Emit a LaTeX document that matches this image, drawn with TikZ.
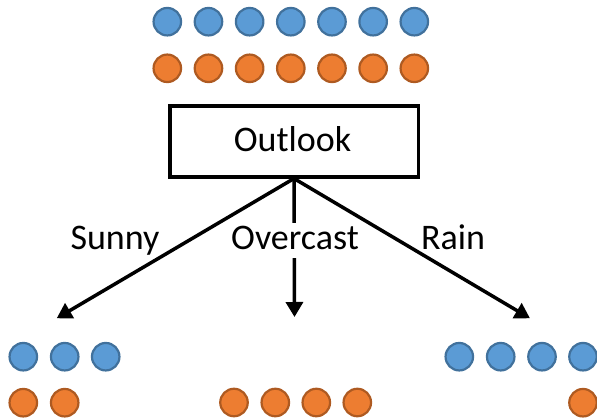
\documentclass[tikz,border=0pt]{standalone}
\usepackage{fontspec}
\setmainfont{Carlito}
\usetikzlibrary{arrows.meta}
\definecolor{bfill}{HTML}{5B9BD5}
\definecolor{bdraw}{HTML}{41719C}
\definecolor{ofill}{HTML}{ED7D31}
\definecolor{odraw}{HTML}{AE5A21}
\tikzset{
  bdot/.style={circle, fill=bfill, draw=bdraw, line width=2.2pt, minimum size=27.5pt, inner sep=0pt},
  odot/.style={circle, fill=ofill, draw=odraw, line width=2.2pt, minimum size=27.5pt, inner sep=0pt},
  lbl/.style={font=\fontsize{36}{43}\selectfont, anchor=base, inner sep=0pt},
  conn/.style={line width=3.5pt, -{Triangle[width=17pt,length=15pt]}},
}
\begin{document}
\begin{tikzpicture}[x=1pt,y=-1pt]
\useasboundingbox (0,0) rectangle (597,420);
% top row
\foreach \i in {0,...,6} {
  \node[bdot] (tb\i) at (167.3+41.17*\i,21.7) {};
  \node[odot] (to\i) at (167.3+41.17*\i,68.3) {};
}
% box
\node[draw, line width=3.5pt, minimum width=248.5pt, minimum height=71pt, inner sep=0pt] (box) at (294,141.25) {};
\node[lbl] (outlook) at (292.5,151.7) {Outlook};
% arrow ends
\coordinate (eL) at (56.7,318.3);
\coordinate (eM) at (294.5,317);
\coordinate (eR) at (530,318.3);
\draw[conn] (box.south) -- (eL);
\draw[conn] (box.south) -- (eR);
\draw[conn] (box.south) -- (eM);
% labels
\node[lbl] (sunny) at (115,249) {Sunny};
\node[lbl, fill=white, inner sep=1pt, text height=25pt, text depth=8pt] (overcast) at (295,249) {Overcast};
\node[lbl] (rain) at (453,249) {Rain};
% bottom left
\node[bdot] (lb1) at (23.3,356.7) {};
\node[bdot] (lb2) at (64.7,356.7) {};
\node[bdot] (lb3) at (105.7,356.7) {};
\node[odot] (lo1) at (23.3,402.7) {};
\node[odot] (lo2) at (64.7,402.7) {};
% bottom middle
\node[odot] (mo1) at (234,402.5) {};
\node[odot] (mo2) at (275.3,402.5) {};
\node[odot] (mo3) at (316.3,402.5) {};
\node[odot] (mo4) at (357.3,402.5) {};
% bottom right
\node[bdot] (rb1) at (459.3,356.7) {};
\node[bdot] (rb2) at (500.7,356.7) {};
\node[bdot] (rb3) at (542,356.7) {};
\node[bdot] (rb4) at (583,356.7) {};
\node[odot] (ro1) at (583,402.7) {};
\end{tikzpicture}
\end{document}
